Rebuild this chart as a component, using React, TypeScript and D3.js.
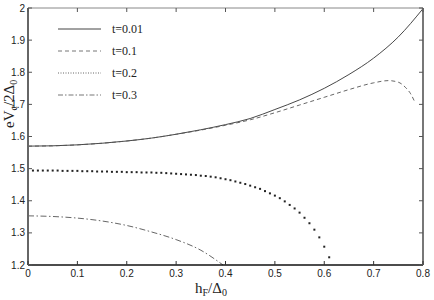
import React from "react";
import * as d3 from "d3";

const W = 434;
const H = 300;

const xTicks = [0, 0.1, 0.2, 0.3, 0.4, 0.5, 0.6, 0.7, 0.8];
const yTicks = [1.2, 1.3, 1.4, 1.5, 1.6, 1.7, 1.8, 1.9, 2];

// t = 0.01 (solid)
const t001X = [0, 0.05, 0.1, 0.15, 0.2, 0.25, 0.3, 0.35, 0.4, 0.45, 0.5, 0.55, 0.6, 0.65, 0.7, 0.75, 0.8];
const t001Y = [1.57, 1.571, 1.574, 1.579, 1.586, 1.595, 1.607, 1.621, 1.637, 1.656, 1.684, 1.714, 1.75, 1.793, 1.844, 1.91, 1.998];

// t = 0.1 (dashed)
const t01X = [0, 0.05, 0.1, 0.15, 0.2, 0.25, 0.3, 0.35, 0.4, 0.45, 0.5, 0.55, 0.6, 0.65, 0.7, 0.73, 0.75, 0.765, 0.775, 0.782];
const t01Y = [1.57, 1.571, 1.574, 1.579, 1.586, 1.595, 1.607, 1.62, 1.635, 1.652, 1.674, 1.698, 1.722, 1.746, 1.767, 1.774, 1.769, 1.752, 1.733, 1.712];

// t = 0.2 (dotted markers, x = 0 .. 0.61 step 0.01)
const t02X = [
  0, 0.01, 0.02, 0.03, 0.04, 0.05, 0.06, 0.07, 0.08, 0.09,
  0.1, 0.11, 0.12, 0.13, 0.14, 0.15, 0.16, 0.17, 0.18, 0.19,
  0.2, 0.21, 0.22, 0.23, 0.24, 0.25, 0.26, 0.27, 0.28, 0.29,
  0.3, 0.31, 0.32, 0.33, 0.34, 0.35, 0.36, 0.37, 0.38, 0.39,
  0.4, 0.41, 0.42, 0.43, 0.44, 0.45, 0.46, 0.47, 0.48, 0.49,
  0.5, 0.51, 0.52, 0.53, 0.54, 0.55, 0.56, 0.57, 0.58, 0.59,
  0.6, 0.61,
];
const t02Y = [
  1.494, 1.494, 1.494, 1.494, 1.494, 1.494, 1.494, 1.493, 1.493, 1.493,
  1.493, 1.492, 1.492, 1.492, 1.491, 1.491, 1.491, 1.49, 1.49, 1.49,
  1.489, 1.489, 1.489, 1.488, 1.488, 1.488, 1.487, 1.487, 1.486, 1.485,
  1.484, 1.483, 1.482, 1.481, 1.48, 1.478, 1.477, 1.475, 1.473, 1.47,
  1.467, 1.464, 1.46, 1.456, 1.452, 1.447, 1.442, 1.437, 1.43, 1.423,
  1.416, 1.408, 1.398, 1.387, 1.376, 1.363, 1.347, 1.33, 1.31, 1.286,
  1.257, 1.224,
];

// t = 0.3 (dash-dot)
const t03X = [0, 0.05, 0.1, 0.15, 0.2, 0.25, 0.3, 0.35, 0.395];
const t03Y = [1.353, 1.351, 1.346, 1.337, 1.323, 1.303, 1.279, 1.246, 1.2];

const legendLabels = ["t=0.01", "t=0.1", "t=0.2", "t=0.3"];
const legendDash = ["none", "4 3", "1 1.5", "5 2 1.5 2"];

export default function App() {
  const x0 = 28, x1 = 423, y0 = 265, y1 = 8;
  const x = d3.scaleLinear().domain([0, 0.8]).range([x0, x1]);
  const y = d3.scaleLinear().domain([1.2, 2.0]).range([y0, y1]);

  const line = d3
    .line<[number, number]>()
    .x((d) => x(d[0]))
    .y((d) => y(d[1]))
    .curve(d3.curveMonotoneX);

  const zip = (a: number[], b: number[]) => a.map((v, i) => [v, b[i]] as [number, number]);

  const col = "#333";
  const tickFont = "Liberation Sans, Arial, Helvetica, sans-serif";
  const serif = "Liberation Serif, Times New Roman, serif";
  const legendY = [29, 51, 73, 95];

  return (
    <svg
      width={W}
      height={H}
      style={{ position: "absolute", left: 0, top: 0, background: "#fff" }}
    >
      <rect x={0} y={0} width={W} height={H} fill="#fff" />
      {/* curves */}
      <path d={line(zip(t001X, t001Y)) || ""} fill="none" stroke={col} strokeWidth={0.9} />
      <path d={line(zip(t01X, t01Y)) || ""} fill="none" stroke="#555" strokeWidth={0.9} strokeDasharray="4 3" />
      <path d={line(zip(t03X, t03Y)) || ""} fill="none" stroke="#555" strokeWidth={0.9} strokeDasharray="6 2.5 1.5 2.5" />
      {t02X.map((xv, i) => (
        <rect key={i} x={x(xv) - 1} y={y(t02Y[i]) - 1} width={2} height={2} fill="#222" />
      ))}

      {/* frame */}
      <line x1={x0} x2={x1} y1={y1} y2={y1} stroke="#888" strokeWidth={1} />
      <line x1={x0} x2={x1} y1={y0} y2={y0} stroke="#111" strokeWidth={1.5} />
      <line x1={x0} x2={x0} y1={y1} y2={y0} stroke="#666" strokeWidth={2} />
      <line x1={x1} x2={x1} y1={y1} y2={y0} stroke="#777" strokeWidth={2} />

      {/* x ticks */}
      {xTicks.map((t) => (
        <g key={"x" + t}>
          <line x1={x(t)} x2={x(t)} y1={y0} y2={y0 - 4} stroke="#333" strokeWidth={1} />
          <line x1={x(t)} x2={x(t)} y1={y1} y2={y1 + 4} stroke="#555" strokeWidth={1} />
          <text
            x={x(t)}
            y={y0 + 12}
            textAnchor="middle"
            fontFamily={tickFont}
            fontSize={10}
            fill="#222"
          >
            {t === 0 ? "0" : d3.format(".1f")(t)}
          </text>
        </g>
      ))}
      {/* y ticks */}
      {yTicks.map((t) => (
        <g key={"y" + t}>
          <line x1={x0} x2={x0 + 4} y1={y(t)} y2={y(t)} stroke="#555" strokeWidth={1} />
          <line x1={x1} x2={x1 - 4} y1={y(t)} y2={y(t)} stroke="#555" strokeWidth={1} />
          <text
            x={x0 - 3}
            y={y(t) + 3.5}
            textAnchor="end"
            fontFamily={tickFont}
            fontSize={10}
            fill="#222"
          >
            {t === 2 ? "2" : d3.format(".1f")(t)}
          </text>
        </g>
      ))}

      {/* legend */}
      {legendLabels.map((lab, i) => (
        <g key={lab}>
          {i === 2 ? (
            <line x1={58} x2={101} y1={legendY[i]} y2={legendY[i]} stroke="#666" strokeWidth={1} strokeDasharray="1 1.5" />
          ) : (
            <line
              x1={58}
              x2={101}
              y1={legendY[i]}
              y2={legendY[i]}
              stroke={i === 0 ? "#444" : "#666"}
              strokeWidth={i === 0 ? 1 : 0.9}
              strokeDasharray={legendDash[i] === "none" ? undefined : legendDash[i]}
            />
          )}
          <text x={112} y={legendY[i] + 4} fontFamily={serif} fontSize={12} fill="#222">
            {lab}
          </text>
        </g>
      ))}

      {/* y label */}
      <text
        transform="translate(14,128) rotate(-90)"
        fontFamily={serif}
        fontSize={15}
        fill="#222"
      >
        eV
        <tspan fontSize={10} dy={3}>c</tspan>
        <tspan dy={-3}>/2Δ</tspan>
        <tspan fontSize={10} dy={3}>0</tspan>
      </text>

      {/* x label */}
      <text x={195} y={293} fontFamily={serif} fontSize={15} fill="#222">
        h
        <tspan fontSize={10} dy={3}>F</tspan>
        <tspan dy={-3}>/Δ</tspan>
        <tspan fontSize={10} dy={3}>0</tspan>
      </text>
    </svg>
  );
}
